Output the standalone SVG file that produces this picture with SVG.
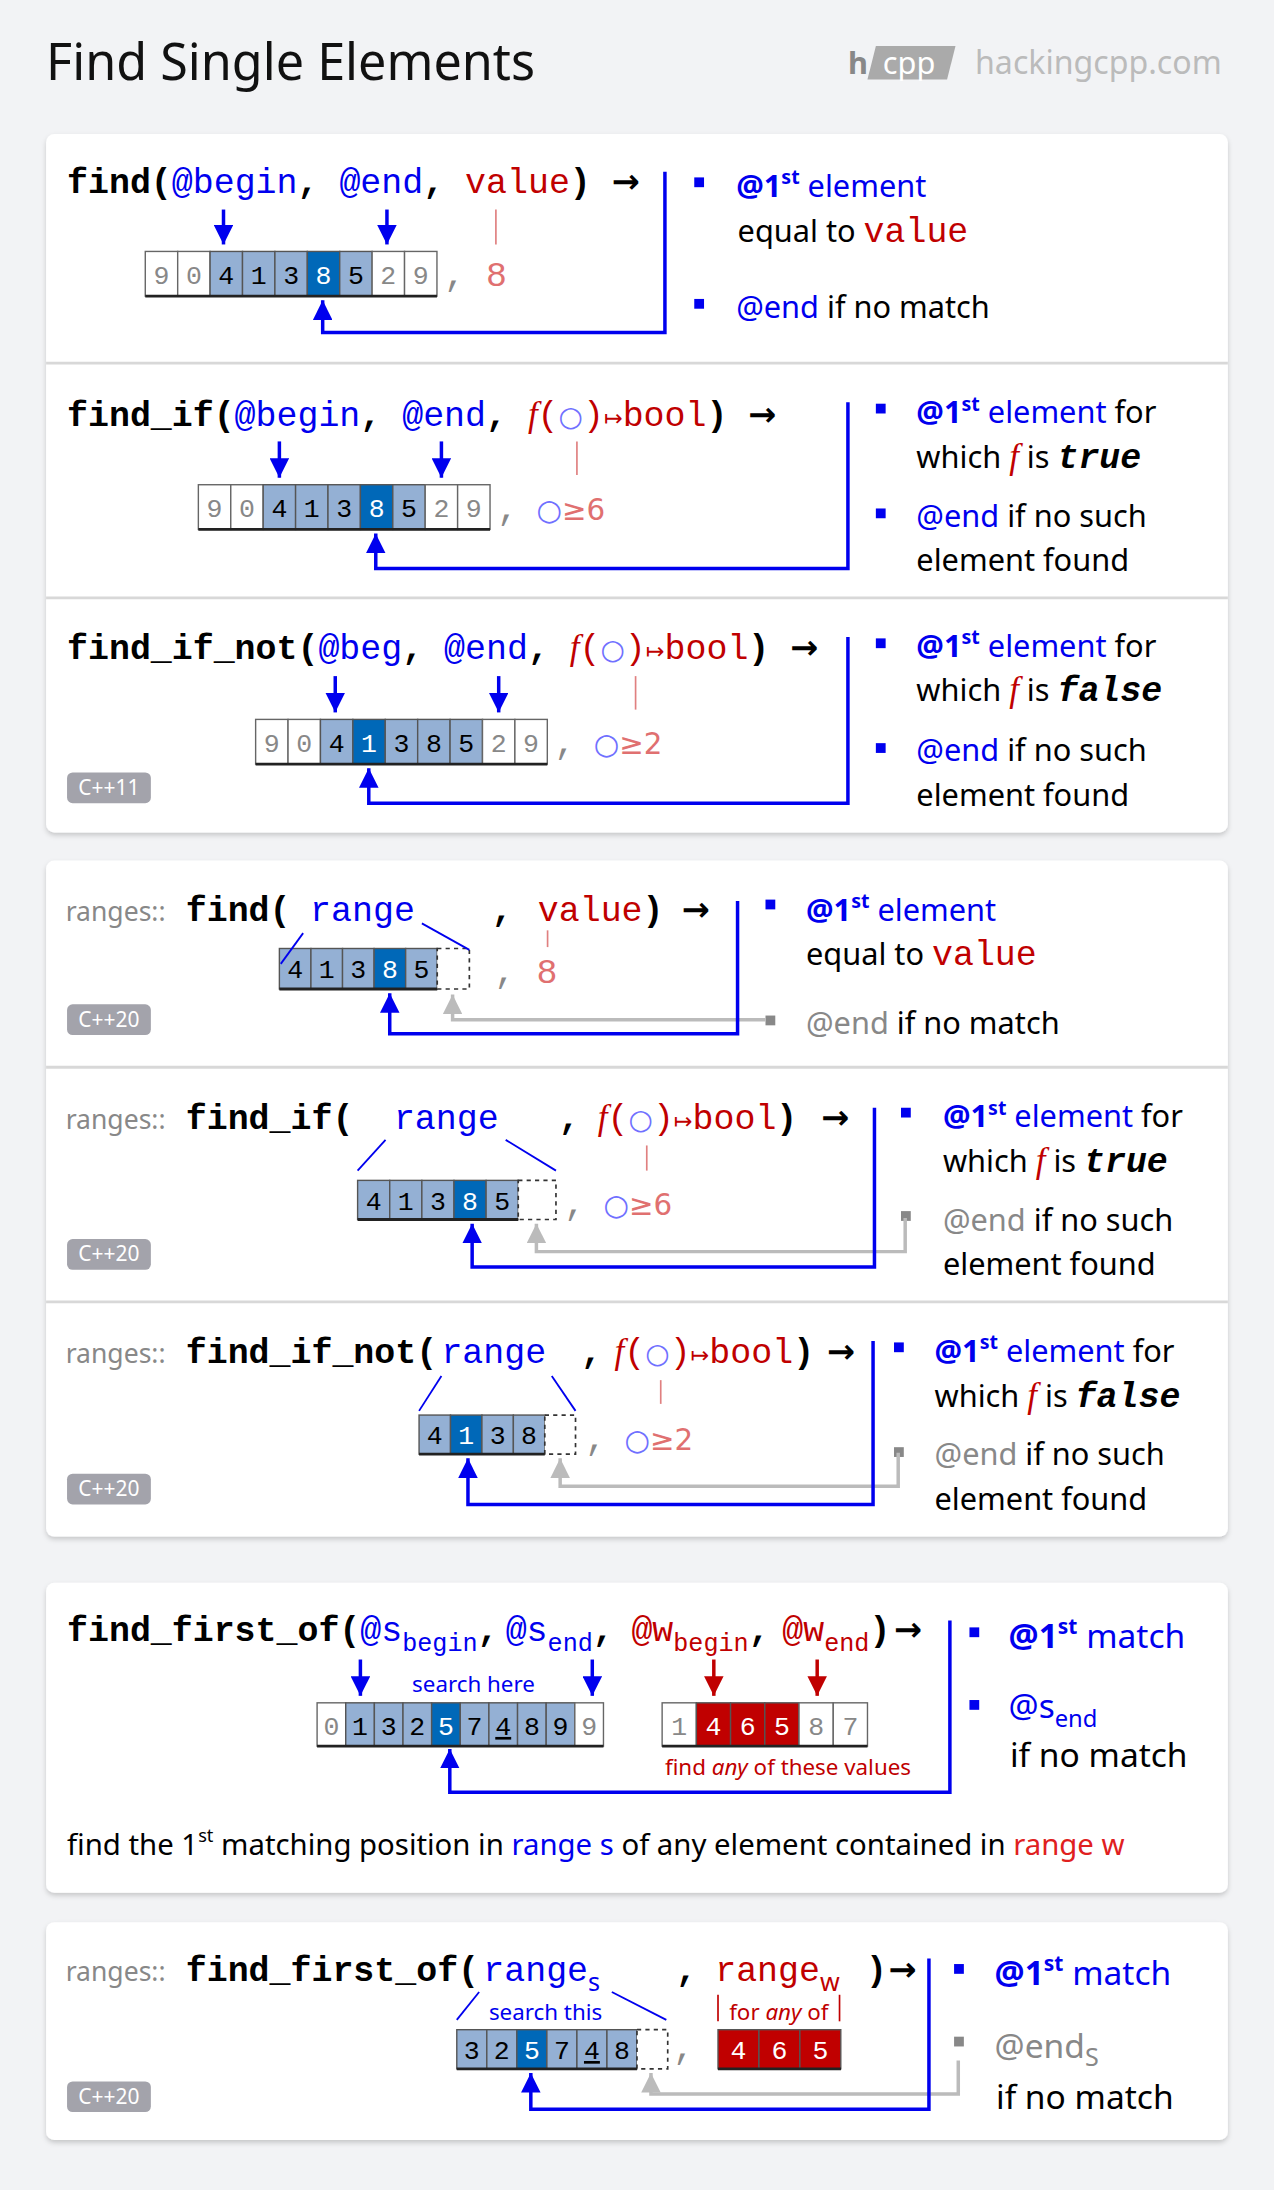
<svg xmlns="http://www.w3.org/2000/svg" width="1274" height="2190" viewBox="0 0 1274 2190">
<style>
.code{font-family:"Liberation Mono",monospace;font-weight:bold;font-size:25px;fill:#000}
.code .b,.code .r{font-weight:normal}
.arr{font-family:"DejaVu Sans",sans-serif;font-weight:bold;font-size:24px}
.mono{font-family:"Liberation Mono",monospace;font-size:25px}
.txt{font-family:"Noto Sans",sans-serif;font-size:22px;fill:#000}
.ns{font-family:"Noto Sans",sans-serif;font-size:19px;fill:#888}
.sm{font-family:"Noto Sans",sans-serif;font-size:16px}
.cv{font-family:"Liberation Mono",monospace;font-size:19px;text-anchor:middle}
.b{fill:#0000ee}.r{fill:#c00000}.g{fill:#888}.lr{fill:#e07070}.lb{fill:#7070ff}
.cw{fill:#fff;stroke:#666;stroke-width:1}.cl{fill:#94b0d4;stroke:#555;stroke-width:1}.cd{fill:#0068b8;stroke:#555;stroke-width:1}.cr{fill:#c00000;stroke:#555;stroke-width:1}
.dash{fill:#fff;stroke:#333;stroke-width:1.2;stroke-dasharray:3 3}
.bl{stroke:#0000ee;stroke-width:2.5;fill:none}.gl{stroke:#bbb;stroke-width:2.5;fill:none}.rl{stroke:#e08080;stroke-width:1.2}
.bot{stroke:#222;stroke-width:2}
.card{fill:#fff;filter:url(#sh)}
.div{stroke:#d8d8d8;stroke-width:2}
.badge{fill:#a3a3ab}.bt{font-family:"Noto Sans",sans-serif;font-size:15px;fill:#fff;text-anchor:middle}
</style>
<defs>
<filter id="sh" x="-5%" y="-5%" width="110%" height="115%"><feDropShadow dx="0" dy="2" stdDeviation="2" flood-color="#000" flood-opacity="0.18"/></filter>
<marker id="mb" viewBox="0 0 10 10" refX="10" refY="5" markerWidth="14" markerHeight="14" markerUnits="userSpaceOnUse" orient="auto"><path d="M0,0 L10,5 L0,10 z" fill="#0000ee"/></marker>
<marker id="mg" viewBox="0 0 10 10" refX="10" refY="5" markerWidth="14" markerHeight="14" markerUnits="userSpaceOnUse" orient="auto"><path d="M0,0 L10,5 L0,10 z" fill="#bbb"/></marker>
<marker id="mr" viewBox="0 0 10 10" refX="10" refY="5" markerWidth="14" markerHeight="14" markerUnits="userSpaceOnUse" orient="auto"><path d="M0,0 L10,5 L0,10 z" fill="#c00000"/></marker>
</defs>
<rect width="1274" height="2190" fill="#f2f3f5"/>
<g transform="scale(1.3969)">
<g id="header">
<text x="33" y="57" font-family="Noto Sans, sans-serif" font-size="36" fill="#111">Find Single Elements</text>
<text x="607" y="53" font-family="Noto Sans, sans-serif" font-size="22" font-weight="bold" fill="#888">h</text>
<polygon points="627,33 684,33 678,57 621,57" fill="#aaa"/>
<text x="632" y="53" font-family="Noto Sans, sans-serif" font-size="22" fill="#fff">cpp</text>
<text x="698" y="53" font-family="Noto Sans, sans-serif" font-size="23" fill="#bbb">hackingcpp.com</text>
</g>
<g id="cards">
<rect class="card" x="33" y="96" width="846" height="500" rx="6"/>
<line class="div" x1="33" y1="260" x2="879" y2="260"/>
<line class="div" x1="33" y1="428" x2="879" y2="428"/>
<rect class="card" x="33" y="616" width="846" height="484" rx="6"/>
<line class="div" x1="33" y1="764" x2="879" y2="764"/>
<line class="div" x1="33" y1="932" x2="879" y2="932"/>
<rect class="card" x="33" y="1133" width="846" height="222" rx="6"/>
<rect class="card" x="33" y="1376" width="846" height="156" rx="6"/>
</g>

<g id="find">
<text class="code" x="48" y="138">find(<tspan class="b">@begin</tspan>, <tspan class="b">@end</tspan>, <tspan class="r">value</tspan>) <tspan class="arr">→</tspan></text>
<rect class="cw" x="104" y="180" width="23.2" height="32"/><rect class="cw" x="127.2" y="180" width="23.2" height="32"/>
<rect class="cl" x="150.4" y="180" width="23.2" height="32"/><rect class="cl" x="173.6" y="180" width="23.2" height="32"/><rect class="cl" x="196.8" y="180" width="23.2" height="32"/>
<rect class="cd" x="220" y="180" width="23.2" height="32"/><rect class="cl" x="243.2" y="180" width="23.2" height="32"/>
<rect class="cw" x="266.4" y="180" width="23.2" height="32"/><rect class="cw" x="289.6" y="180" width="23.2" height="32"/>
<line class="bot" x1="104" y1="212" x2="312.8" y2="212"/>
<text class="cv" y="203"><tspan x="115.6" class="g">9</tspan><tspan x="138.8" class="g">0</tspan><tspan x="162">4</tspan><tspan x="185.2">1</tspan><tspan x="208.4">3</tspan><tspan x="231.6" fill="#fff">8</tspan><tspan x="254.8">5</tspan><tspan x="278" class="g">2</tspan><tspan x="301.2" class="g">9</tspan></text>
<text class="mono" x="318" y="205" fill="#888">,</text><text class="mono lr" x="348" y="205">8</text>
<g class="txt"><rect x="497" y="127" width="7" height="7" fill="#0000ee"/>
<text x="527" y="141" class="b"><tspan font-weight="bold">@1</tspan><tspan font-size="14" dy="-9" font-weight="bold">st</tspan><tspan dy="9"> element</tspan></text>
<text x="528" y="173">equal to <tspan class="mono r" font-size="23">value</tspan></text>
<rect x="497" y="214" width="7" height="7" fill="#0000ee"/>
<text x="527" y="228"><tspan class="b">@end</tspan> if no match</text></g>
</g>

<g id="find_if">
<text class="code" x="48" y="305">find_if(<tspan class="b">@begin</tspan>, <tspan class="b">@end</tspan>, <tspan class="r" font-family="Liberation Serif, serif" font-style="italic">f</tspan><tspan class="r">(</tspan><tspan class="lb" font-weight="normal" font-family="DejaVu Sans, sans-serif" font-size="20">○</tspan><tspan class="r">)</tspan><tspan class="r" font-family="DejaVu Sans, sans-serif" font-size="16">↦</tspan><tspan class="r">bool</tspan>) <tspan class="arr">→</tspan></text>
<rect class="cw" x="142" y="347" width="23.2" height="32"/><rect class="cw" x="165.2" y="347" width="23.2" height="32"/>
<rect class="cl" x="188.4" y="347" width="23.2" height="32"/><rect class="cl" x="211.6" y="347" width="23.2" height="32"/><rect class="cl" x="234.8" y="347" width="23.2" height="32"/>
<rect class="cd" x="258" y="347" width="23.2" height="32"/><rect class="cl" x="281.2" y="347" width="23.2" height="32"/>
<rect class="cw" x="304.4" y="347" width="23.2" height="32"/><rect class="cw" x="327.6" y="347" width="23.2" height="32"/>
<line class="bot" x1="142" y1="379" x2="350.8" y2="379"/>
<text class="cv" y="370"><tspan x="153.6" class="g">9</tspan><tspan x="176.8" class="g">0</tspan><tspan x="200">4</tspan><tspan x="223.2">1</tspan><tspan x="246.4">3</tspan><tspan x="269.6" fill="#fff">8</tspan><tspan x="292.8">5</tspan><tspan x="316" class="g">2</tspan><tspan x="339.2" class="g">9</tspan></text>
<text class="mono" x="356" y="372" fill="#888">,</text>
<text x="384" y="372" font-family="DejaVu Sans, sans-serif" font-size="21"><tspan class="lb">○</tspan><tspan class="lr">≥6</tspan></text>
<g class="txt"><rect x="627" y="289" width="7" height="7" fill="#0000ee"/>
<text x="656" y="303"><tspan class="b" font-weight="bold">@1</tspan><tspan class="b" font-size="14" dy="-9" font-weight="bold">st</tspan><tspan class="b" dy="9"> element</tspan> for</text>
<text x="656" y="335">which <tspan class="r" font-family="Liberation Serif, serif" font-style="italic" font-size="25">f</tspan> is <tspan class="mono" font-weight="bold" font-style="italic">true</tspan></text>
<rect x="627" y="364" width="7" height="7" fill="#0000ee"/>
<text x="656" y="377"><tspan class="b">@end</tspan> if no such</text>
<text x="656" y="409">element found</text></g>
</g>

<g id="find_if_not">
<text class="code" x="48" y="472">find_if_not(<tspan class="b">@beg</tspan>, <tspan class="b">@end</tspan>, <tspan class="r" font-family="Liberation Serif, serif" font-style="italic">f</tspan><tspan class="r">(</tspan><tspan class="lb" font-weight="normal" font-family="DejaVu Sans, sans-serif" font-size="20">○</tspan><tspan class="r">)</tspan><tspan class="r" font-family="DejaVu Sans, sans-serif" font-size="16">↦</tspan><tspan class="r">bool</tspan>) <tspan class="arr">→</tspan></text>
<rect class="cw" x="183" y="515" width="23.2" height="32"/><rect class="cw" x="206.2" y="515" width="23.2" height="32"/>
<rect class="cl" x="229.4" y="515" width="23.2" height="32"/><rect class="cd" x="252.6" y="515" width="23.2" height="32"/><rect class="cl" x="275.8" y="515" width="23.2" height="32"/>
<rect class="cl" x="299" y="515" width="23.2" height="32"/><rect class="cl" x="322.2" y="515" width="23.2" height="32"/>
<rect class="cw" x="345.4" y="515" width="23.2" height="32"/><rect class="cw" x="368.6" y="515" width="23.2" height="32"/>
<line class="bot" x1="183" y1="547" x2="391.8" y2="547"/>
<text class="cv" y="538"><tspan x="194.6" class="g">9</tspan><tspan x="217.8" class="g">0</tspan><tspan x="241">4</tspan><tspan x="264.2" fill="#fff">1</tspan><tspan x="287.4">3</tspan><tspan x="310.6">8</tspan><tspan x="333.8">5</tspan><tspan x="357" class="g">2</tspan><tspan x="380.2" class="g">9</tspan></text>
<text class="mono" x="397" y="540" fill="#888">,</text>
<text x="425" y="540" font-family="DejaVu Sans, sans-serif" font-size="21"><tspan class="lb">○</tspan><tspan class="lr">≥2</tspan></text>
<g class="txt"><rect x="627" y="457" width="7" height="7" fill="#0000ee"/>
<text x="656" y="470"><tspan class="b" font-weight="bold">@1</tspan><tspan class="b" font-size="14" dy="-9" font-weight="bold">st</tspan><tspan class="b" dy="9"> element</tspan> for</text>
<text x="656" y="502">which <tspan class="r" font-family="Liberation Serif, serif" font-style="italic" font-size="25">f</tspan> is <tspan class="mono" font-weight="bold" font-style="italic">false</tspan></text>
<rect x="627" y="532" width="7" height="7" fill="#0000ee"/>
<text x="656" y="545"><tspan class="b">@end</tspan> if no such</text>
<text x="656" y="577">element found</text></g>
<rect class="badge" x="48" y="553" width="60" height="22" rx="4"/><text class="bt" x="78" y="569">C++11</text>
</g>

<g id="ranges_find">
<text x="47" y="659"><tspan class="ns">ranges::</tspan><tspan class="code" x="133">find(</tspan><tspan class="mono b" x="222">range</tspan><tspan class="code" x="352">,</tspan><tspan class="mono r" x="385">value</tspan><tspan class="code" x="460">)</tspan><tspan class="arr" x="488">→</tspan></text>
<rect class="cl" x="200" y="679" width="22.6" height="29"/><rect class="cl" x="222.6" y="679" width="22.6" height="29"/><rect class="cl" x="245.2" y="679" width="22.6" height="29"/><rect class="cd" x="267.8" y="679" width="22.6" height="29"/><rect class="cl" x="290.4" y="679" width="22.6" height="29"/>
<rect class="dash" x="313" y="679" width="23" height="29"/>
<line class="bot" x1="200" y1="708" x2="313" y2="708"/>
<text class="cv" y="700"><tspan x="211.3">4</tspan><tspan x="233.9">1</tspan><tspan x="256.5">3</tspan><tspan x="279.1" fill="#fff">8</tspan><tspan x="301.7">5</tspan></text>
<line x1="217" y1="668" x2="201" y2="690" stroke="#0000ee" stroke-width="1.3"/>
<line x1="302" y1="661" x2="336" y2="680" stroke="#0000ee" stroke-width="1.3"/>
<text class="mono" x="354" y="704" fill="#888">,</text><text class="mono lr" x="384" y="704">8</text>
<g class="txt"><rect x="548" y="644" width="7" height="7" fill="#0000ee"/>
<text x="577" y="659"><tspan class="b" font-weight="bold">@1</tspan><tspan class="b" font-size="14" dy="-9" font-weight="bold">st</tspan><tspan class="b" dy="9"> element</tspan></text>
<text x="577" y="691">equal to <tspan class="mono r" font-size="23">value</tspan></text>
<rect x="548" y="727" width="7" height="7" fill="#888"/>
<text x="577" y="740"><tspan class="g">@end</tspan> if no match</text></g>
<rect class="badge" x="48" y="719" width="60" height="22" rx="4"/><text class="bt" x="78" y="735">C++20</text>
</g>

<g id="ranges_find_if">
<text x="47" y="808"><tspan class="ns">ranges::</tspan><tspan class="code" x="133">find_if(</tspan><tspan class="mono b" x="282">range</tspan><tspan class="code" x="400">,</tspan><tspan class="r" x="428" font-family="Liberation Serif, serif" font-style="italic" font-size="25">f</tspan><tspan class="r mono">(</tspan><tspan class="lb" font-family="DejaVu Sans, sans-serif" font-size="20">○</tspan><tspan class="r mono">)</tspan><tspan class="r" font-family="DejaVu Sans, sans-serif" font-size="16">↦</tspan><tspan class="r mono" font-size="22">bool</tspan><tspan class="code">)</tspan><tspan class="arr" x="588">→</tspan></text>
<rect class="cl" x="256" y="845" width="23" height="28"/><rect class="cl" x="279" y="845" width="23" height="28"/><rect class="cl" x="302" y="845" width="23" height="28"/><rect class="cd" x="325" y="845" width="23" height="28"/><rect class="cl" x="348" y="845" width="23" height="28"/>
<rect class="dash" x="371" y="845" width="27" height="28"/>
<line class="bot" x1="256" y1="873" x2="371" y2="873"/>
<text class="cv" y="866"><tspan x="267.5">4</tspan><tspan x="290.5">1</tspan><tspan x="313.5">3</tspan><tspan x="336.5" fill="#fff">8</tspan><tspan x="359.5">5</tspan></text>
<line x1="276" y1="816" x2="256" y2="838" stroke="#0000ee" stroke-width="1.3"/>
<line x1="362" y1="816" x2="398" y2="838" stroke="#0000ee" stroke-width="1.3"/>
<text class="mono" x="404" y="870" fill="#888">,</text>
<text x="432" y="870" font-family="DejaVu Sans, sans-serif" font-size="21"><tspan class="lb">○</tspan><tspan class="lr">≥6</tspan></text>
<g class="txt"><rect x="645" y="793" width="7" height="7" fill="#0000ee"/>
<text x="675" y="807"><tspan class="b" font-weight="bold">@1</tspan><tspan class="b" font-size="14" dy="-9" font-weight="bold">st</tspan><tspan class="b" dy="9"> element</tspan> for</text>
<text x="675" y="839">which <tspan class="r" font-family="Liberation Serif, serif" font-style="italic" font-size="25">f</tspan> is <tspan class="mono" font-weight="bold" font-style="italic">true</tspan></text>
<rect x="645" y="867" width="7" height="7" fill="#888"/>
<text x="675" y="881"><tspan class="g">@end</tspan> if no such</text>
<text x="675" y="913">element found</text></g>
<rect class="badge" x="48" y="887" width="60" height="22" rx="4"/><text class="bt" x="78" y="903">C++20</text>
</g>

<g id="ranges_find_if_not">
<text x="47" y="976"><tspan class="ns">ranges::</tspan><tspan class="code" x="133">find_if_not(</tspan><tspan class="mono b" x="316">range</tspan><tspan class="code" x="416">,</tspan><tspan class="r" x="440" font-family="Liberation Serif, serif" font-style="italic" font-size="25">f</tspan><tspan class="r mono">(</tspan><tspan class="lb" font-family="DejaVu Sans, sans-serif" font-size="20">○</tspan><tspan class="r mono">)</tspan><tspan class="r" font-family="DejaVu Sans, sans-serif" font-size="16">↦</tspan><tspan class="r mono" font-size="22">bool</tspan><tspan class="code">)</tspan><tspan class="arr" x="592">→</tspan></text>
<rect class="cl" x="300" y="1013" width="22.5" height="28"/><rect class="cd" x="322.5" y="1013" width="22.5" height="28"/><rect class="cl" x="345" y="1013" width="22.5" height="28"/><rect class="cl" x="367.5" y="1013" width="22.5" height="28"/>
<rect class="dash" x="390" y="1013" width="22" height="28"/>
<line class="bot" x1="300" y1="1041" x2="390" y2="1041"/>
<text class="cv" y="1034"><tspan x="311.25">4</tspan><tspan x="333.75" fill="#fff">1</tspan><tspan x="356.25">3</tspan><tspan x="378.75">8</tspan></text>
<line x1="316" y1="985" x2="300" y2="1010" stroke="#0000ee" stroke-width="1.3"/>
<line x1="395" y1="985" x2="412" y2="1010" stroke="#0000ee" stroke-width="1.3"/>
<text class="mono" x="419" y="1038" fill="#888">,</text>
<text x="447" y="1038" font-family="DejaVu Sans, sans-serif" font-size="21"><tspan class="lb">○</tspan><tspan class="lr">≥2</tspan></text>
<g class="txt"><rect x="640" y="961" width="7" height="7" fill="#0000ee"/>
<text x="669" y="975"><tspan class="b" font-weight="bold">@1</tspan><tspan class="b" font-size="14" dy="-9" font-weight="bold">st</tspan><tspan class="b" dy="9"> element</tspan> for</text>
<text x="669" y="1007">which <tspan class="r" font-family="Liberation Serif, serif" font-style="italic" font-size="25">f</tspan> is <tspan class="mono" font-weight="bold" font-style="italic">false</tspan></text>
<rect x="640" y="1036" width="7" height="7" fill="#888"/>
<text x="669" y="1049"><tspan class="g">@end</tspan> if no such</text>
<text x="669" y="1081">element found</text></g>
<rect class="badge" x="48" y="1055" width="60" height="22" rx="4"/><text class="bt" x="78" y="1071">C++20</text>
</g>

<g id="find_first_of">
<text class="code" x="48" y="1175">find_first_of(<tspan class="b">@s</tspan><tspan class="b" font-size="18" dy="7">begin</tspan><tspan dy="-7">,</tspan><tspan class="b" x="362">@s</tspan><tspan class="b" font-size="18" dy="7">end</tspan><tspan dy="-7">,</tspan><tspan class="r" x="452">@w</tspan><tspan class="r" font-size="18" dy="7">begin</tspan><tspan dy="-7">,</tspan><tspan class="r" x="560">@w</tspan><tspan class="r" font-size="18" dy="7">end</tspan><tspan dy="-7">)</tspan><tspan class="arr" x="640">→</tspan></text>
<text class="sm b" x="295" y="1211">search here</text>
<rect class="cw" x="227" y="1219" width="20.5" height="31"/>
<rect class="cl" x="247.5" y="1219" width="20.5" height="31"/><rect class="cl" x="268" y="1219" width="20.5" height="31"/><rect class="cl" x="288.5" y="1219" width="20.5" height="31"/><rect class="cd" x="309" y="1219" width="20.5" height="31"/><rect class="cl" x="329.5" y="1219" width="20.5" height="31"/><rect class="cl" x="350" y="1219" width="20.5" height="31"/><rect class="cl" x="370.5" y="1219" width="20.5" height="31"/><rect class="cl" x="391" y="1219" width="20.5" height="31"/>
<rect class="cw" x="411.5" y="1219" width="20.5" height="31"/>
<line class="bot" x1="227" y1="1250" x2="432" y2="1250"/>
<text class="cv" y="1242"><tspan x="237.25" class="g">0</tspan><tspan x="257.75">1</tspan><tspan x="278.25">3</tspan><tspan x="298.75">2</tspan><tspan x="319.25" fill="#fff">5</tspan><tspan x="339.75">7</tspan><tspan x="360.25" text-decoration="underline">4</tspan><tspan x="380.75">8</tspan><tspan x="401.25">9</tspan><tspan x="421.75" class="g">9</tspan></text>
<rect class="cw" x="474" y="1219" width="24.5" height="31"/><rect class="cr" x="498.5" y="1219" width="24.5" height="31"/><rect class="cr" x="523" y="1219" width="24.5" height="31"/><rect class="cr" x="547.5" y="1219" width="24.5" height="31"/><rect class="cw" x="572" y="1219" width="24.5" height="31"/><rect class="cw" x="596.5" y="1219" width="24.5" height="31"/>
<line class="bot" x1="474" y1="1250" x2="621" y2="1250"/>
<text class="cv" y="1242"><tspan x="486.25" class="g">1</tspan><tspan x="510.75" fill="#fff">4</tspan><tspan x="535.25" fill="#fff">6</tspan><tspan x="559.75" fill="#fff">5</tspan><tspan x="584.25" class="g">8</tspan><tspan x="608.75" class="g">7</tspan></text>
<text class="sm r" x="476" y="1271">find <tspan font-style="italic">any</tspan> of these values</text>
<g class="txt"><rect x="694" y="1165" width="7" height="7" fill="#0000ee"/>
<text x="722" y="1180" class="b" font-size="24"><tspan font-weight="bold">@1</tspan><tspan font-size="15" dy="-10" font-weight="bold">st</tspan><tspan dy="10"> match</tspan></text>
<rect x="694" y="1217" width="7" height="7" fill="#0000ee"/>
<text x="722" y="1230" class="b" font-size="24">@s<tspan font-size="17" dy="6">end</tspan></text>
<text x="723" y="1265" font-size="24">if no match</text>
<text x="48" y="1328" font-size="21">find the 1<tspan font-size="13" dy="-9">st</tspan><tspan dy="9"> matching position in </tspan><tspan class="b">range s</tspan> of any element contained in <tspan fill="#e02020">range w</tspan></text></g>
</g>

<g id="ranges_find_first_of">
<text x="47" y="1418"><tspan class="ns">ranges::</tspan><tspan class="code" x="133">find_first_of(</tspan><tspan class="mono b" x="346">range</tspan><tspan class="b" font-family="Noto Sans, sans-serif" font-size="18" dy="7">s</tspan><tspan class="code" x="484" dy="-7">,</tspan><tspan class="mono r" x="512">range</tspan><tspan class="r" font-family="Noto Sans, sans-serif" font-size="18" dy="7">w</tspan><tspan class="code" x="620" dy="-7">)</tspan><tspan class="arr" x="636">→</tspan></text>
<line x1="343" y1="1426" x2="327" y2="1446" stroke="#0000ee" stroke-width="1.3"/>
<line x1="438" y1="1426" x2="477" y2="1446" stroke="#0000ee" stroke-width="1.3"/>
<text class="sm b" x="350" y="1446" font-size="15">search this</text>
<line x1="514" y1="1428" x2="514" y2="1447" stroke="#c00000" stroke-width="1.2"/>
<line x1="601" y1="1428" x2="601" y2="1447" stroke="#c00000" stroke-width="1.2"/>
<text class="sm r" x="522" y="1446" font-size="15">for <tspan font-style="italic">any</tspan> of</text>
<rect class="cl" x="327" y="1453" width="21.5" height="28"/><rect class="cl" x="348.5" y="1453" width="21.5" height="28"/><rect class="cd" x="370" y="1453" width="21.5" height="28"/><rect class="cl" x="391.5" y="1453" width="21.5" height="28"/><rect class="cl" x="413" y="1453" width="21.5" height="28"/><rect class="cl" x="434.5" y="1453" width="21.5" height="28"/>
<rect class="dash" x="456" y="1453" width="22" height="28"/>
<line class="bot" x1="327" y1="1481" x2="456" y2="1481"/>
<text class="cv" y="1474"><tspan x="337.75">3</tspan><tspan x="359.25">2</tspan><tspan x="380.75" fill="#fff">5</tspan><tspan x="402.25">7</tspan><tspan x="423.75" text-decoration="underline">4</tspan><tspan x="445.25">8</tspan></text>
<text class="mono" x="482" y="1474" fill="#888">,</text>
<rect class="cr" x="514" y="1453" width="29.3" height="28"/><rect class="cr" x="543.3" y="1453" width="29.3" height="28"/><rect class="cr" x="572.6" y="1453" width="29.3" height="28"/>
<line class="bot" x1="514" y1="1481" x2="602" y2="1481"/>
<text class="cv" y="1474" fill="#fff"><tspan x="528.6">4</tspan><tspan x="558">6</tspan><tspan x="587.3">5</tspan></text>
<g class="txt"><rect x="683" y="1406" width="7" height="7" fill="#0000ee"/>
<text x="712" y="1421" class="b" font-size="24"><tspan font-weight="bold">@1</tspan><tspan font-size="15" dy="-10" font-weight="bold">st</tspan><tspan dy="10"> match</tspan></text>
<rect x="683" y="1458" width="7" height="7" fill="#888"/>
<text x="712" y="1473" class="g" font-size="24">@end<tspan font-size="18" dy="6">S</tspan></text>
<text x="713" y="1510" font-size="24">if no match</text></g>
<rect class="badge" x="48" y="1490" width="60" height="22" rx="4"/><text class="bt" x="78" y="1506">C++20</text>
</g>

<g id="connectors">
<path class="bl" d="M160,150 V175" marker-end="url(#mb)"/><path class="bl" d="M277,150 V175" marker-end="url(#mb)"/>
<line class="rl" x1="355" y1="150" x2="355" y2="175"/>
<path class="bl" d="M476,123 V238 H231 V215" marker-end="url(#mb)"/>
<path class="bl" d="M200,316 V342" marker-end="url(#mb)"/><path class="bl" d="M316,316 V342" marker-end="url(#mb)"/>
<line class="rl" x1="413" y1="316" x2="413" y2="340"/>
<path class="bl" d="M607,288 V407 H269 V382" marker-end="url(#mb)"/>
<path class="bl" d="M240,484 V510" marker-end="url(#mb)"/><path class="bl" d="M357,484 V510" marker-end="url(#mb)"/>
<line class="rl" x1="455" y1="484" x2="455" y2="508"/>
<path class="bl" d="M607,456 V575 H264 V550" marker-end="url(#mb)"/>
<line class="rl" x1="392" y1="666" x2="392" y2="678"/>
<path class="gl" d="M548,730 H324 V712" marker-end="url(#mg)"/>
<path class="bl" d="M528,645 V740 H279 V711" marker-end="url(#mb)"/>
<line class="rl" x1="463" y1="820" x2="463" y2="838"/>
<path class="gl" d="M648,872 V896 H384 V876" marker-end="url(#mg)"/>
<path class="bl" d="M626,793 V907 H338 V876" marker-end="url(#mb)"/>
<line class="rl" x1="473" y1="988" x2="473" y2="1005"/>
<path class="gl" d="M643,1040 V1064 H401 V1044" marker-end="url(#mg)"/>
<path class="bl" d="M625,960 V1077 H335 V1044" marker-end="url(#mb)"/>
<path class="bl" d="M258,1188 V1214" marker-end="url(#mb)"/><path class="bl" d="M424,1188 V1214" marker-end="url(#mb)"/>
<path d="M511,1188 V1214" stroke="#c00000" stroke-width="2.5" marker-end="url(#mr)"/><path d="M585,1188 V1214" stroke="#c00000" stroke-width="2.5" marker-end="url(#mr)"/>
<path class="bl" d="M680,1160 V1283 H322 V1252" marker-end="url(#mb)"/>
<path class="gl" d="M686,1475 V1499 H466 V1484" marker-end="url(#mg)"/>
<path class="bl" d="M665,1402 V1510 H380 V1484" marker-end="url(#mb)"/>
</g>
</g>
</svg>
